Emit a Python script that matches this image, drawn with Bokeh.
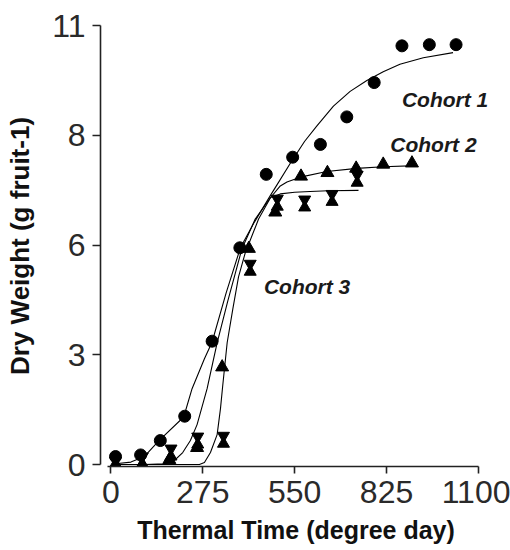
from bokeh.plotting import figure
from bokeh.models import Range1d, FixedTicker, Label
from bokeh.embed import file_html
from bokeh.resources import INLINE

# ---- observed data (thermal time, dry weight) ----
c1_x = [14, 89, 148, 221, 303, 386, 465, 544, 627, 706, 788, 871, 953, 1033]
c1_y = [0.20, 0.24, 0.60, 1.21, 3.09, 5.43, 7.27, 7.70, 8.02, 8.71, 9.57, 10.49, 10.52, 10.52]

c2_x = [14, 94, 175, 258, 333, 413, 492, 569, 648, 734, 815, 901]
c2_y = [0.0, 0.0, 0.12, 0.42, 2.44, 5.41, 6.32, 7.22, 7.31, 7.42, 7.52, 7.55]

c3_x = [14, 94, 180, 260, 337, 417, 498, 580, 662, 737]
c3_y = [0.0, 0.1, 0.3, 0.6, 0.62, 4.93, 6.56, 6.54, 6.68, 7.16]

# ---- fitted curves ----
f1_x = [14, 60, 100, 144, 218, 243, 280, 303, 345, 388, 430, 478, 498, 537, 580, 616, 666, 716, 766, 815, 865, 935, 1024]
f1_y = [0.02, 0.06, 0.2, 0.6, 1.19, 1.9, 2.65, 3.07, 4.3, 5.44, 6.08, 6.75, 7.02, 7.55, 8.1, 8.48, 8.98, 9.35, 9.62, 9.84, 10.03, 10.19, 10.32]

f2_x = [14, 100, 160, 190, 215, 238, 258, 288, 305, 318, 350, 392, 432, 478, 507, 527, 567, 646, 736, 815, 915]
f2_y = [0.0, 0.0, 0.02, 0.1, 0.3, 0.6, 1.0, 1.9, 2.55, 3.05, 4.1, 5.4, 6.15, 6.69, 6.98, 7.08, 7.2, 7.34, 7.42, 7.46, 7.49]

f3_x = [14, 150, 265, 280, 298, 318, 328, 335, 348, 365, 382, 402, 442, 478, 507, 550, 596, 650, 741]
f3_y = [0.0, 0.0, 0.0, 0.05, 0.3, 0.75, 1.4, 2.0, 3.05, 3.9, 4.7, 5.3, 6.15, 6.69, 6.78, 6.82, 6.84, 6.86, 6.87]

x_ticks = [0, 275, 550, 825, 1100]
y_ticks = [0, 2.75, 5.5, 8.25, 11]
y_tick_labels = ["0", "3", "6", "8", "11"]

labels = ["Cohort 1", "Cohort 2", "Cohort 3"]
label_x = [871, 836, 458]
label_y = [9.14, 8.01, 4.47]

TICK_FONT = "'Liberation Sans Narrow', 'Arial Narrow', 'Liberation Sans', sans-serif"

p = figure(width=510, height=550, output_backend="svg", toolbar_location=None,
           x_range=Range1d(-31, 1139), y_range=Range1d(-0.05, 11),
           min_border_left=100, min_border_right=19, min_border_top=25, min_border_bottom=84)
p.outline_line_color = None
p.grid.grid_line_color = None
p.background_fill_color = "white"
p.border_fill_color = "white"

for ax in (p.xaxis[0], p.yaxis[0]):
    ax.axis_line_color = "#222222"
    ax.axis_line_width = 1.6
    ax.major_tick_line_color = "#222222"
    ax.major_tick_line_width = 1.6
    ax.minor_tick_line_color = None
    ax.major_tick_in = 0
    ax.major_label_text_font = TICK_FONT
    ax.major_label_text_font_size = "32px"
    ax.major_label_text_color = "#2a2a2a"
    ax.axis_label_text_font = "Liberation Sans"
    ax.axis_label_text_font_style = "bold"
    ax.axis_label_text_color = "#111111"

p.xaxis.ticker = FixedTicker(ticks=x_ticks)
p.xaxis.bounds = (-10, 1100)
p.xaxis.major_tick_out = 7
p.xaxis.major_label_standoff = 7
p.xaxis.axis_label = "Thermal Time (degree day)"
p.xaxis.axis_label_text_font_size = "25px"
p.xaxis.axis_label_standoff = 10

p.yaxis.ticker = FixedTicker(ticks=y_ticks)
p.yaxis.major_label_overrides = {t: s for t, s in zip(y_ticks, y_tick_labels)}
p.yaxis.bounds = (0, 11)
p.yaxis.major_tick_out = 8
p.yaxis.major_label_standoff = 7
p.yaxis.axis_label = "Dry Weight (g fruit-1)"
p.yaxis.axis_label_text_font_size = "26px"
p.yaxis.axis_label_standoff = 14

# fitted curves
for fx, fy in ((f1_x, f1_y), (f2_x, f2_y), (f3_x, f3_y)):
    p.line(fx, fy, line_color="black", line_width=1.1)

# markers
p.scatter(c1_x, c1_y, marker="circle", size=12, fill_color="black", line_color="black")
p.scatter(c2_x, c2_y, marker="triangle", size=13, fill_color="black", line_color="black")
# hourglass = inverted triangle over upright triangle
p.scatter(c3_x, [v + 0.1 for v in c3_y], marker="inverted_triangle", size=12,
          fill_color="black", line_color="black")
p.scatter(c3_x, [v - 0.1 for v in c3_y], marker="triangle", size=12,
          fill_color="black", line_color="black")

for t, lx, ly in zip(labels, label_x, label_y):
    p.add_layout(Label(x=lx, y=ly, text=t, text_font="Liberation Sans",
                       text_font_style="bold italic", text_font_size="21px",
                       text_color="#1a1a1a", text_align="left",
                       text_baseline="alphabetic"))

open("out.html", "w").write(file_html(p, INLINE))
